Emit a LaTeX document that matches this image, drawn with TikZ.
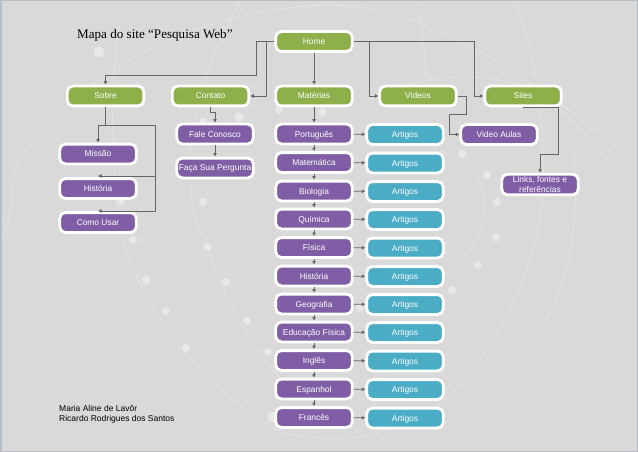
\documentclass[tikz,border=0pt]{standalone}
\usepackage{fontspec}
\setmainfont{Liberation Sans}
\newfontfamily\serifttl{Liberation Serif}
\usetikzlibrary{arrows.meta}
\definecolor{bgc}{HTML}{D9D9D9}
\definecolor{grn}{HTML}{8DB04A}
\definecolor{pur}{HTML}{7F5EA5}
\definecolor{blu}{HTML}{4BACC6}
\definecolor{lin}{HTML}{666666}
\definecolor{edgec}{HTML}{B4BEC8}
\tikzset{
  x=1pt,y=-1pt,
  box/.style={rounded corners=5.5pt,draw=white,line width=2.8pt,minimum width=76.5pt,minimum height=19.8pt,
    inner sep=0pt,align=center,text=white,text height=6pt,text depth=0pt,font=\fontsize{8.4}{9.5}\selectfont},
  greenbox/.style={box,fill=grn},
  purplebox/.style={box,fill=pur},
  bluebox/.style={box,fill=blu},
  conn/.style={draw=lin,line width=0.9pt,-{Latex[length=3.6pt,width=4pt]}},
  plainconn/.style={draw=lin,line width=0.9pt},
  deco/.style={draw=white,opacity=0.3,line width=0.7pt},
  dot/.style={fill=white,opacity=0.42},
}
\begin{document}
\begin{tikzpicture}
\useasboundingbox (0,0) rectangle (638,452);
\fill[bgc] (0,0) rectangle (638,452);
\fill[edgec] (0,0) rectangle (638,1.5);
\fill[edgec] (0,0) rectangle (1.5,452);
\fill[edgec] (636.5,0) rectangle (638,452);
\fill[edgec] (0,450.5) rectangle (638,452);
% decoration
\draw[deco] (3,235) .. controls (15,215) and (8,180) .. (20,160) .. controls (70,85) and (170,15) .. (320,5) .. controls (420,2) and (520,70) .. (617,147);
\draw[deco] (120,25) .. controls (112,60) and (108,150) .. (121,235) .. controls (140,300) and (190,380) .. (280,432);
\draw[deco] (240,2) .. controls (195,80) and (170,180) .. (208,247) .. controls (225,300) and (250,345) .. (280,378);
\draw[deco] (415,0) .. controls (425,30) and (425,60) .. (425,80);
\draw[deco] (513,0) .. controls (530,40) and (545,90) .. (543,190) .. controls (540,260) and (500,350) .. (440,405);
\draw[deco] (574,150) .. controls (578,220) and (575,270) .. (540,330);
\draw[deco] (353,110) .. controls (400,75) and (470,70) .. (520,85) .. controls (560,100) and (590,140) .. (612,165);
\draw[deco] (440,150) .. controls (470,165) and (485,180) .. (483,200) .. controls (486,235) and (470,255) .. (445,275);
\draw[deco] (280,432) .. controls (340,445) and (380,440) .. (440,405);
\foreach \a/\b/\r in {99/52/5.5,239/117/4.5,203/202/4,121/201/4,133/240/4,146/280/4,166/311/4,186/348/4,208/247/4,226/282/4,247/321/4,268/352/4,273/417/5.5,322/112/4,279/110/4,203/122/4,360/308/4,462/154/4,487/175/4,497/202/4,496/237/4,478/265/4,452/290/4}{\fill[dot] (\a,\b) circle (\r);}
% nodes
\node[greenbox] (home) at (314,41.5) {Home};
\node[greenbox] (sobre) at (105.5,96) {Sobre};
\node[greenbox] (contato) at (210.5,96) {Contato};
\node[greenbox] (materias) at (314,96) {Matérias};
\node[greenbox] (videos) at (418,96) {Videos};
\node[greenbox] (sites) at (523,96) {Sites};
\node[purplebox] (missao) at (98,154) {Missão};
\node[purplebox] (historia1) at (98,188.5) {História};
\node[purplebox] (comousar) at (98,222.5) {Como Usar};
\node[purplebox] (fale) at (215,134) {Fale Conosco};
\node[purplebox] (faca) at (215,168) {Faça Sua Pergunta};
\node[purplebox] (videoaulas) at (499,134.5) {Video Aulas};
\node[purplebox,text height=,text depth=,minimum height=20.5pt] (links) at (540,184.5) {Links, fontes e\\referências};
\foreach \n/\t/\y in {a/Português/134,b/Matemática/162.5,c/Biologia/191,d/Química/219,e/Física/247.5,f/História/276,g/Geografia/304,h/Educação Física/332,i/Inglês/360.5,j/Espanhol/389,k/Francês/417.5}{
  \node[purplebox] (m\n) at (314,\y) {\t};
  \node[bluebox] (t\n) at (405,\y+0.5) {Artigos};
  \draw[conn] (m\n) -- (t\n);
}
\foreach \p/\q in {a/b,b/c,c/d,d/e,e/f,f/g,g/h,h/i,i/j,j/k}{\draw[conn] (m\p) -- (m\q);}
% connectors
\draw[conn] (home.west) -- ++(-17.5,0) -- ++(0,33.5) -| (sobre.north);
\draw[conn] (home.west) -- ++(-7.5,0) |- (contato.east);
\draw[conn] (home) -- (materias);
\draw[conn] (materias) -- (ma);
\draw[conn] (home.east) -- ++(16,0) |- (videos.west);
\draw[conn] (home.east) -- ++(121,0) |- (sites.west);
\draw[conn] (videos.east) -- ++(9,0) -- ++(0,18) -- ++(-17,0) |- (videoaulas.west);
\draw[conn] (sites.south) -- ++(35,0) -- ++(0,47) -| (links.north);
\draw[conn] (contato.south) -- ++(0,5) -| (fale.north);
\draw[conn] (fale) -- (faca);
\coordinate (junc) at (105.5,125);
\draw[plainconn] (sobre.south) -- (junc);
\draw[conn] (junc) -| (missao.north);
\draw[conn] (junc) -| (155,176) -- (98,176);
\draw[conn] (junc) -| (155,211) -- (98,211);
% text
\node[anchor=west,inner sep=0pt,font=\serifttl\fontsize{13.1}{15}\selectfont] (titulo) at (77,35) {Mapa do site “Pesquisa Web”};
\node[anchor=north west,inner sep=0pt,align=left,font=\fontsize{8.5}{10}\selectfont] (autores) at (59,405) {Maria Aline de Lavôr\\Ricardo Rodrigues dos Santos};
\end{tikzpicture}
\end{document}
